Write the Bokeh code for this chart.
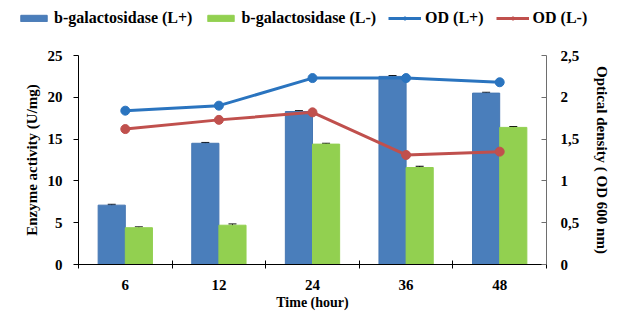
import numpy as np
from bokeh.plotting import figure
from bokeh.layouts import column
from bokeh.models import (ColumnDataSource, Range1d, LinearAxis, FixedTicker, Legend,
                          LegendItem, Whisker)
from bokeh.embed import file_html
from bokeh.resources import INLINE

times = ["6", "12", "24", "36", "48"]
enzyme_lplus = [7.1, 14.5, 18.3, 22.5, 20.5]
enzyme_lminus = [4.4, 4.7, 14.4, 11.6, 16.4]
enzyme_lplus_err = [0.1, 0.1, 0.1, 0.1, 0.1]
enzyme_lminus_err = [0.1, 0.15, 0.1, 0.15, 0.1]
od_lplus = [1.84, 1.90, 2.23, 2.23, 2.18]
od_lminus = [1.62, 1.73, 1.82, 1.31, 1.35]
left_ticks = [0, 5, 10, 15, 20, 25]
right_ticks = [0, 0.5, 1, 1.5, 2, 2.5]
right_tick_labels = ["0", "0,5", "1", "1,5", "2", "2,5"]
series_labels = ["b-galactosidase (L+)", "b-galactosidase (L-)", "OD (L+)", "OD (L-)"]

FONT = "Liberation Serif"
BLUE_BAR = "#4a7ebb"
GREEN_BAR = "#92d050"
BLUE_LINE = "#2a74bf"
RED_LINE = "#c0504d"

W = 613
LEG_H = 30

x = np.arange(1, len(times) + 1)
off = 0.145
bw = 0.29
src = ColumnDataSource(dict(
    x=x, xl=x - off, xr=x + off,
    lp=enzyme_lplus, lm=enzyme_lminus,
    lp_up=np.array(enzyme_lplus) + np.array(enzyme_lplus_err),
    lp_lo=np.array(enzyme_lplus) - np.array(enzyme_lplus_err),
    lm_up=np.array(enzyme_lminus) + np.array(enzyme_lminus_err),
    lm_lo=np.array(enzyme_lminus) - np.array(enzyme_lminus_err),
    odp=od_lplus, odm=od_lminus,
))

p = figure(width=W, height=312 - LEG_H, output_backend="svg", toolbar_location=None,
           x_range=Range1d(0.5, len(times) + 0.5), y_range=Range1d(0, 25),
           min_border_left=78, min_border_right=60, min_border_top=55 - LEG_H,
           min_border_bottom=45)
p.extra_y_ranges = {"od": Range1d(0, 2.5)}
p.outline_line_color = None
p.xgrid.visible = False
p.ygrid.visible = False

bar_styles = [dict(fill_color=BLUE_BAR, line_color="#4677b3"),
              dict(fill_color=GREEN_BAR, line_color=GREEN_BAR)]
p.vbar(x="xl", top="lp", width=bw, source=src, **bar_styles[0])
p.vbar(x="xr", top="lm", width=bw, source=src, **bar_styles[1])

for base, up, lo in (("xl", "lp_up", "lp_lo"), ("xr", "lm_up", "lm_lo")):
    w = Whisker(base=base, upper=up, lower=lo, source=src, line_color="black", line_width=1)
    w.upper_head.size = 8
    w.lower_head.size = 8
    w.upper_head.line_color = "black"
    w.lower_head.line_color = "black"
    p.add_layout(w)

for col, colr in (("odp", BLUE_LINE), ("odm", RED_LINE)):
    p.line("x", col, source=src, y_range_name="od", line_color=colr, line_width=3)
    p.scatter("x", col, source=src, y_range_name="od", size=9, fill_color=colr, line_color=colr)

# bottom axis
xa = p.xaxis[0]
xa.ticker = FixedTicker(ticks=list(x), minor_ticks=list(np.arange(0.5, len(times) + 1, 1.0)))
xa.major_label_overrides = {int(i): t for i, t in zip(x, times)}
xa.major_tick_in = 0
xa.major_tick_out = 0
xa.minor_tick_in = 4
xa.minor_tick_out = 4
xa.minor_tick_line_color = "black"
xa.axis_line_color = "black"
xa.axis_label = "Time (hour)"

# left axis
ya = p.yaxis[0]
ya.ticker = FixedTicker(ticks=left_ticks)
ya.minor_tick_line_color = None
ya.major_tick_in = 0
ya.major_tick_out = 5
ya.axis_label = "Enzyme activity (U/mg)"

# right axis
ra = LinearAxis(y_range_name="od", ticker=FixedTicker(ticks=right_ticks),
                axis_label="Optical density ( OD 600 nm)")
ra.major_label_overrides = {t: l for t, l in zip(right_ticks, right_tick_labels)}
ra.minor_tick_line_color = None
ra.major_tick_in = 5
ra.major_tick_out = 0
ra.axis_line_color = "#6e6e6e"
ra.major_tick_line_color = "#6e6e6e"
p.add_layout(ra, "right")

for ax in (xa, ya, ra):
    ax.major_label_text_font = FONT
    ax.major_label_text_font_style = "bold"
    ax.major_label_text_font_size = "15px"
    ax.major_label_text_color = "black"
    ax.axis_label_text_font = FONT
    ax.axis_label_text_font_style = "bold"
    ax.axis_label_text_font_size = "15px"
    ax.axis_label_text_color = "black"
xa.axis_label_text_font_size = "14px"
ya.major_label_standoff = 11
ra.major_label_standoff = 14
xa.major_label_standoff = 11
ya.axis_label_standoff = 5
ra.axis_label_standoff = 12
xa.axis_label_standoff = 2

# legend strip: a separate figure (the legend would be clipped by the plot frame);
# its proxy glyphs reuse the chart data but lie outside this strip's ranges.
lf = figure(width=W, height=LEG_H, output_backend="svg", toolbar_location=None,
            x_range=Range1d(-20, -10), y_range=Range1d(-20, -10),
            x_axis_location=None, y_axis_location=None,
            min_border_left=0, min_border_right=0, min_border_top=0, min_border_bottom=0)
lf.frame_align = False
lf.grid.visible = False
lf.outline_line_color = None
lb1 = lf.vbar(x="xl", top="lp", width=bw, source=src, **bar_styles[0])
lb2 = lf.vbar(x="xr", top="lm", width=bw, source=src, **bar_styles[1])
ll1 = lf.line("x", "odp", source=src, line_color=BLUE_LINE, line_width=3)
lc1 = lf.scatter("x", "odp", source=src, size=7, fill_color=BLUE_LINE, line_color=BLUE_LINE)
ll2 = lf.line("x", "odm", source=src, line_color=RED_LINE, line_width=3)
lc2 = lf.scatter("x", "odm", source=src, size=7, fill_color=RED_LINE, line_color=RED_LINE)

legend = Legend(items=[
    LegendItem(label=series_labels[0], renderers=[lb1]),
    LegendItem(label=series_labels[1], renderers=[lb2]),
    LegendItem(label=series_labels[2], renderers=[ll1, lc1]),
    LegendItem(label=series_labels[3], renderers=[ll2, lc2]),
], orientation="horizontal", location=(17, 3))
legend.label_text_font = FONT
legend.label_text_font_style = "bold"
legend.label_text_font_size = "16px"
legend.label_text_color = "black"
legend.glyph_width = 33
legend.glyph_height = 8
legend.label_standoff = 4
legend.spacing = 12
legend.padding = 0
legend.margin = 0
legend.border_line_color = None
legend.background_fill_alpha = 0
lf.add_layout(legend, "center")

layout = column(lf, p, spacing=0)
open("out.html", "w").write(file_html(layout, INLINE))
